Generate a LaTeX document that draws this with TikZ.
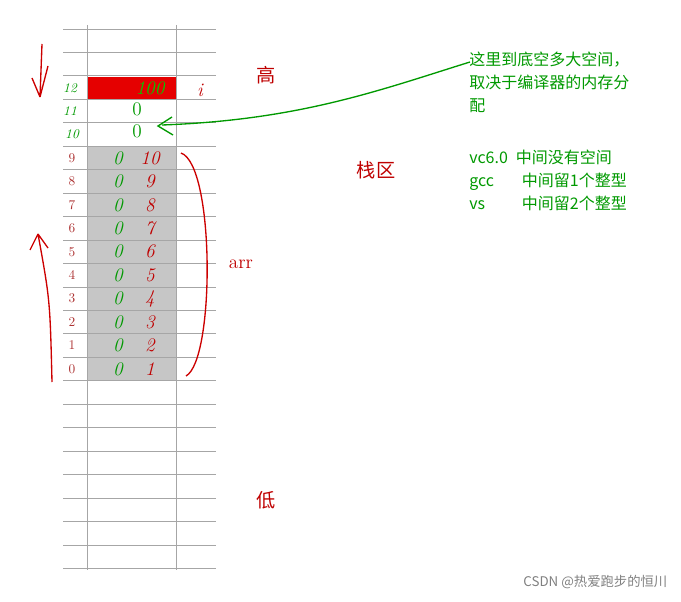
\documentclass[tikz,border=0pt]{standalone}
\usepackage{fontspec}
\newfontfamily\cjk{Noto Sans CJK SC}
\begin{document}
\begin{tikzpicture}[x=0.75pt,y=-0.75pt,
  grid/.style={gray!70,line width=0.6pt},
  redt/.style={text=red!75!black},
  grn/.style={text=green!60!black},
  hand/.style={line width=1pt},
  lbl/.style={text=red!60!black!80,font=\normalsize}]
\useasboundingbox (0,0) rectangle (681,602);
\fill[red!90!black] (87,76.9) rectangle (176,100.3);
\fill[gray!45] (87,146.3) rectangle (176,380.8);
\foreach \k in {0,...,23} \draw[grid] (63,{29+23.45*\k}) -- (216,{29+23.45*\k});
\draw[grid] (87,25) -- (87,570);
\draw[grid] (176,25) -- (176,570);
% index labels
\node[grn,font=\normalsize\itshape] (l12) at (70,88) {12};
\node[grn,font=\normalsize\itshape] (l11) at (70,111) {11};
\node[grn,font=\normalsize\itshape] (l10) at (72,134) {10};
\foreach \i in {0,...,9} \node[lbl] (ix\i) at (72,{369-23.45*\i}) {\i};
% cell contents
\node[text=green!80!black,font=\Large\itshape] (v12) at (150,88) {100};
\node[grn,font=\Large] (v11) at (137,109) {0};
\node[grn,font=\Large] (v10) at (137,131) {0};
\foreach \i in {0,...,9}{
  \pgfmathtruncatemacro\v{\i+1}
  \node[grn,font=\Large\itshape] (z\i) at (118,{369-23.45*\i}) {0};
  \node[redt,font=\Large\itshape] (n\i) at (150,{369-23.45*\i}) {\v};
}
\node[redt,font=\Large\itshape] (ivar) at (200,90) {i};
% labels
\node[redt,font=\cjk\Large] (hi) at (266,75) {高};
\node[redt,font=\cjk\Large] (stack) at (376,170) {栈区};
\node[redt,font=\Large] (arr) at (241,264) {arr};
\node[redt,font=\cjk\Large] (lo) at (266,500) {低};
% bracket
\draw[red!80!black,hand] (181,153) .. controls (215,165) and (215,360) .. (186,376);
% arrows
\coordinate (a1s) at (42,44); \coordinate (a1e) at (40,97);
\draw[red!80!black,hand] (a1s) -- (a1e) (a1e) -- (32,78) (a1e) -- (48,66);
\coordinate (a2s) at (52,382); \coordinate (a2e) at (38,234);
\draw[red!80!black,hand] (a2s) .. controls (50,300) .. (a2e) (a2e) -- (30,250) (a2e) -- (48,248);
% green pointer
\coordinate (gs) at (470,62); \coordinate (ge) at (162,125);
\draw[green!60!black,hand] (gs) .. controls (380,90) and (300,120) .. (ge);
\draw[green!60!black,hand] (172,117) -- (158,126) -- (173,135);
% note text
\node[grn,font=\cjk\large,anchor=north west,align=left,inner sep=0pt] (note) at (469,52) {这里到底空多大空间，\\[3pt]取决于编译器的内存分\\[3pt]配};
\node[grn,font=\cjk\large,anchor=north west,align=left,inner sep=0pt] (cmp) at (469,150)
 {vc6.0\hspace{0.5em}中间没有空间\\[3pt]gcc\hspace{1.75em}中间留1个整型\\[3pt]vs\hspace{2.3em}中间留2个整型};
\node[gray,font=\cjk\normalsize,anchor=east] (wm) at (672,582) {CSDN @热爱跑步的恒川};
\end{tikzpicture}
\end{document}
